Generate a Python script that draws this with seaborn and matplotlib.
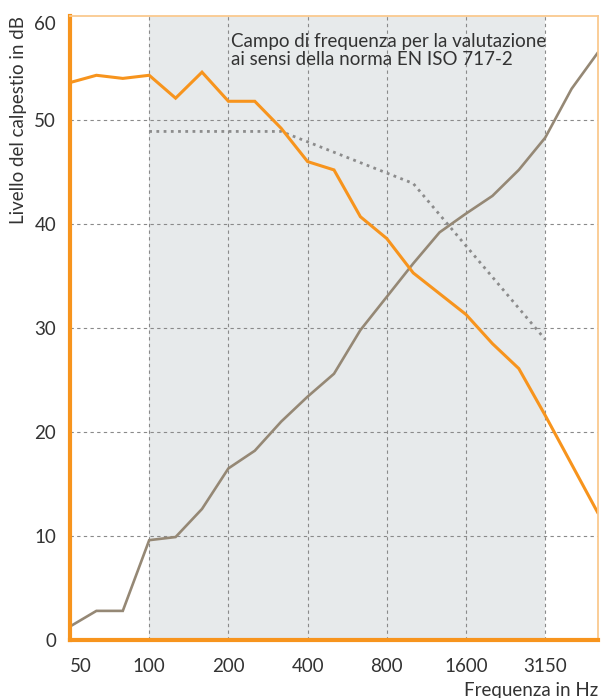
import matplotlib
matplotlib.use("Agg")
import matplotlib.pyplot as plt
import seaborn as sns
import pandas as pd

freqs = ["50", "63", "80", "100", "125", "160", "200", "250", "315", "400", "500",
         "630", "800", "1000", "1250", "1600", "2000", "2500", "3150", "4000", "5000"]
orange_vals = [53.6, 54.3, 54.0, 54.3, 52.1, 54.6, 51.8, 51.8, 49.2, 46.0, 45.2,
               40.7, 38.6, 35.3, 33.3, 31.3, 28.5, 26.1, 21.6, 16.9, 12.2]
brown_vals = [1.3, 2.8, 2.8, 9.6, 9.9, 12.6, 16.5, 18.2, 21.0, 23.4, 25.6,
              29.8, 33.0, 36.2, 39.2, 41.0, 42.7, 45.2, 48.3, 53.0, 56.5]
ref_freqs = ["100", "125", "160", "200", "250", "315", "400", "500",
             "630", "800", "1000", "1250", "1600", "2000", "2500", "3150"]
ref_vals = [48.9, 48.9, 48.9, 48.9, 48.9, 48.9, 47.9, 46.9,
            45.9, 44.9, 43.9, 40.9, 37.9, 34.9, 31.9, 28.9]
tick_labels = ["50", "100", "200", "400", "800", "1600", "3150"]
y_ticks = [0, 10, 20, 30, 40, 50, 60]

annotation = "Campo di frequenza per la valutazione\nai sensi della norma EN ISO 717-2"
xlabel = "Frequenza in Hz"
ylabel = "Livello del calpestio in dB"

sns.set_theme(style="white")
plt.rcParams["font.family"] = ["Lato", "DejaVu Sans"]

ORANGE = "#F7941D"
LIGHT_ORANGE = "#FAC98F"
BROWN = "#958875"
DOT = "#8C8C8C"
GRID = "#8A8A8A"
SHADE = "#E7EAEB"
TEXT = "#333333"
FS = 13.5

pos = {f: i for i, f in enumerate(freqs)}
df = pd.DataFrame({"x": [pos[f] for f in freqs], "orange": orange_vals, "brown": brown_vals})
df_ref = pd.DataFrame({"x": [pos[f] for f in ref_freqs], "ref": ref_vals})

fig = plt.figure(figsize=(6.02, 6.98), dpi=100)
ax = fig.add_axes([70 / 602, 58 / 698, 528 / 602, 624 / 698])

ax.axvspan(pos["100"], pos["3150"], color=SHADE, zorder=0, lw=0)

for t in tick_labels[1:]:
    ax.axvline(pos[t], color=GRID, lw=0.8, ls=(0, (3, 3)), zorder=1)
for yv in y_ticks[1:-1]:
    ax.axhline(yv, color=GRID, lw=0.8, ls=(0, (3, 3)), zorder=1)

sns.lineplot(data=df_ref, x="x", y="ref", ax=ax, color=DOT, lw=2.0,
             linestyle=(0, (1.0, 1.6)), zorder=3)
sns.lineplot(data=df, x="x", y="brown", ax=ax, color=BROWN, lw=1.9, zorder=4)
sns.lineplot(data=df, x="x", y="orange", ax=ax, color=ORANGE, lw=2.2, zorder=5)
for ln in ax.lines[-2:]:
    ln.set_solid_joinstyle("miter")

ax.set_xlim(0, len(freqs) - 1)
ax.set_ylim(0, 60)

ax.set_xticks([pos[t] for t in tick_labels])
ax.set_xticklabels(tick_labels)
ax.set_yticks(y_ticks)
ax.set_yticklabels([str(v) for v in y_ticks])
ax.tick_params(axis="both", length=0, labelsize=FS, colors=TEXT)
ax.tick_params(axis="y", pad=10)
ax.tick_params(axis="x", pad=13)
xl = ax.get_xticklabels()
xl[0].set_ha("left")
yl = ax.get_yticklabels()
yl[-1].set_va("top")

ax.set_xlabel(xlabel, loc="right", fontsize=FS, color=TEXT, labelpad=5)
ax.set_ylabel(ylabel, loc="top", fontsize=FS, color=TEXT)
ax.yaxis.set_label_coords(-0.082, 1.0)

ax.text(pos["200"] + 0.08, 58.4, annotation, fontsize=FS, color=TEXT,
        va="top", ha="left", linespacing=1.1, zorder=6)

for side in ["left", "bottom"]:
    ax.spines[side].set_color(ORANGE)
    ax.spines[side].set_linewidth(3)
for side in ["top", "right"]:
    ax.spines[side].set_color(LIGHT_ORANGE)
    ax.spines[side].set_linewidth(1.3)
for s in ax.spines.values():
    s.set_zorder(7)

fig.savefig("out.png", dpi=100)
